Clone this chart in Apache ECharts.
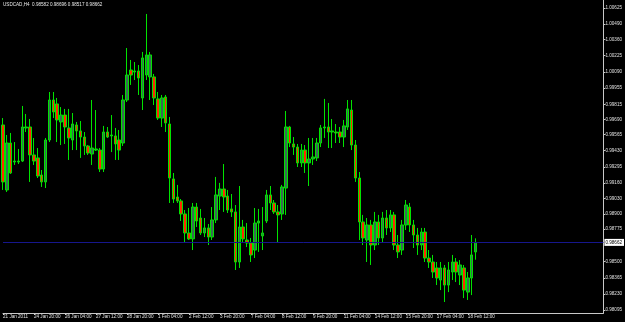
<!DOCTYPE html>
<html>
<head>
<meta charset="utf-8">
<script src="https://cdn.jsdelivr.net/npm/echarts@6.0.0/dist/echarts.min.js"></script>
<style>
html, body { margin: 0; padding: 0; background: #000; }
#chart { width: 625px; height: 322px; }
</style>
</head>
<body>
<div id="chart"></div>
<script>
const symbol = 'USDCAD,H4';

// bottom axis labels, one every 8 bars (H4)
const tickLabels = ['21 Jan 2011', '24 Jan 20:00', '26 Jan 04:00', '27 Jan 12:00', '28 Jan 20:00',
    '1 Feb 04:00', '2 Feb 12:00', '3 Feb 20:00', '7 Feb 04:00', '8 Feb 12:00', '9 Feb 20:00',
    '11 Feb 04:00', '14 Feb 12:00', '15 Feb 20:00', '17 Feb 04:00', '18 Feb 12:00'];
const tickEvery = 8;

// right axis price labels
const priceTicks = [0.98095, 0.98230, 0.98365, 0.98500, 0.98775, 0.98900, 0.99030, 0.99160,
    0.99295, 0.99430, 0.99565, 0.99690, 0.99815, 0.99955, 1.00090, 1.00225, 1.00360, 1.00490, 1.00625];
const yMin = 0.98071;
const yMax = 1.00691;

const opens = [0.99645, 0.99101, 0.99494, 0.99335, 0.99335, 0.99343, 0.99620, 0.99628, 0.99394, 0.99369,
    0.99226, 0.99168, 0.99519, 0.99854, 0.99821, 0.99670, 0.99728, 0.99620, 0.99519, 0.99645,
    0.99595, 0.99544, 0.99469, 0.99402, 0.99435, 0.99435, 0.99276, 0.99586, 0.99553, 0.99553,
    0.99519, 0.99494, 0.99854, 1.00105, 1.00088, 1.00097, 0.99871, 1.00063, 1.00047, 1.00047,
    0.99863, 0.99703, 0.99879, 0.99653, 0.99193, 0.99042, 0.99009, 0.98900, 0.98741, 0.98691,
    0.98958, 0.98866, 0.98741, 0.98783, 0.98707, 0.98850, 0.99050, 0.99109, 0.99050, 0.98942,
    0.98917, 0.98498, 0.98791, 0.98682, 0.98657, 0.98598, 0.98824, 0.98716, 0.98841, 0.99059,
    0.98992, 0.98917, 0.98900, 0.99117, 0.99628, 0.99486, 0.99460, 0.99327, 0.99435, 0.99327,
    0.99360, 0.99369, 0.99494, 0.99620, 0.99628, 0.99586, 0.99586, 0.99586, 0.99544, 0.99628,
    0.99770, 0.99477, 0.99201, 0.98833, 0.98682, 0.98808, 0.98640, 0.98833, 0.98699, 0.98866,
    0.98783, 0.98892, 0.98640, 0.98598, 0.98808, 0.98958, 0.98808, 0.98724, 0.98640, 0.98749,
    0.98531, 0.98498, 0.98448, 0.98347, 0.98448, 0.98305, 0.98414, 0.98498, 0.98389, 0.98448,
    0.98246, 0.98364, 0.98582];
const closes = [0.99168, 0.99494, 0.99243, 0.99343, 0.99343, 0.99628, 0.99628, 0.99394, 0.99343, 0.99218,
    0.99168, 0.99519, 0.99854, 0.99754, 0.99687, 0.99728, 0.99628, 0.99536, 0.99653, 0.99595,
    0.99544, 0.99469, 0.99410, 0.99452, 0.99444, 0.99276, 0.99586, 0.99544, 0.99561, 0.99486,
    0.99435, 0.99854, 1.00063, 1.00063, 1.00097, 1.00038, 1.00206, 1.00231, 1.00231, 0.99871,
    0.99703, 0.99871, 0.99662, 0.99201, 0.99025, 0.99009, 0.98900, 0.98741, 0.98691, 0.98958,
    0.98841, 0.98741, 0.98783, 0.98707, 0.98850, 0.99059, 0.99109, 0.99042, 0.98933, 0.98917,
    0.98498, 0.98791, 0.98691, 0.98657, 0.98557, 0.98824, 0.98841, 0.98741, 0.99059, 0.98992,
    0.98917, 0.98892, 0.99126, 0.99628, 0.99494, 0.99460, 0.99327, 0.99435, 0.99327, 0.99360,
    0.99377, 0.99494, 0.99620, 0.99628, 0.99586, 0.99595, 0.99578, 0.99544, 0.99637, 0.99779,
    0.99477, 0.99201, 0.98833, 0.98699, 0.98808, 0.98640, 0.98833, 0.98699, 0.98866, 0.98783,
    0.98892, 0.98640, 0.98582, 0.98808, 0.98975, 0.98808, 0.98724, 0.98640, 0.98749, 0.98531,
    0.98498, 0.98414, 0.98364, 0.98448, 0.98305, 0.98431, 0.98498, 0.98414, 0.98473, 0.98263,
    0.98364, 0.98557, 0.98662];
const lows = [0.99101, 0.99084, 0.99235, 0.99310, 0.99318, 0.99335, 0.99586, 0.99168, 0.99310, 0.99201,
    0.99126, 0.99117, 0.99502, 0.99703, 0.99502, 0.99477, 0.99486, 0.99352, 0.99435, 0.99435,
    0.99369, 0.99394, 0.99394, 0.99310, 0.99427, 0.99251, 0.99251, 0.99536, 0.99418, 0.99352,
    0.99352, 0.99469, 0.99837, 0.99980, 1.00021, 0.99896, 0.99770, 1.00021, 0.99854, 0.99812,
    0.99687, 0.99628, 0.99586, 0.98992, 0.98992, 0.98992, 0.98841, 0.98665, 0.98682, 0.98598,
    0.98791, 0.98724, 0.98707, 0.98640, 0.98682, 0.98824, 0.98933, 0.98917, 0.98908, 0.98875,
    0.98431, 0.98448, 0.98657, 0.98623, 0.98498, 0.98531, 0.98582, 0.98598, 0.98824, 0.98933,
    0.98900, 0.98665, 0.98850, 0.98892, 0.99460, 0.99394, 0.99293, 0.99293, 0.99243, 0.99134,
    0.99310, 0.99343, 0.99460, 0.99536, 0.99452, 0.99452, 0.99494, 0.99494, 0.99460, 0.99603,
    0.99435, 0.99168, 0.98682, 0.98640, 0.98498, 0.98473, 0.98598, 0.98640, 0.98665, 0.98724,
    0.98749, 0.98598, 0.98531, 0.98557, 0.98766, 0.98749, 0.98615, 0.98557, 0.98598, 0.98498,
    0.98448, 0.98364, 0.98305, 0.98263, 0.98163, 0.98246, 0.98347, 0.98330, 0.98305, 0.98196,
    0.98180, 0.98221, 0.98517];
const highs = [0.99703, 0.99561, 0.99578, 0.99502, 0.99444, 0.99804, 0.99737, 0.99695, 0.99536, 0.99452,
    0.99268, 0.99536, 0.99921, 0.99921, 0.99871, 0.99795, 0.99779, 0.99779, 0.99745, 0.99670,
    0.99678, 0.99586, 0.99477, 0.99854, 0.99770, 0.99452, 0.99637, 0.99628, 0.99728, 0.99620,
    0.99603, 0.99896, 1.00289, 1.00189, 1.00172, 1.00147, 1.00256, 1.00574, 1.00256, 1.00072,
    0.99921, 0.99896, 0.99896, 0.99712, 0.99243, 0.99143, 0.99025, 0.98933, 0.98950, 0.98992,
    0.98992, 0.98942, 0.98866, 0.98816, 0.98958, 0.99210, 0.99160, 0.99318, 0.99101, 0.99067,
    0.98975, 0.99134, 0.98850, 0.98824, 0.98699, 0.98950, 0.98942, 0.98958, 0.99101, 0.99134,
    0.99017, 0.98975, 0.99143, 0.99762, 0.99637, 0.99544, 0.99486, 0.99486, 0.99477, 0.99536,
    0.99536, 0.99536, 0.99645, 0.99863, 0.99829, 0.99695, 0.99653, 0.99628, 0.99687, 0.99854,
    0.99854, 0.99519, 0.99251, 0.98892, 0.98866, 0.98850, 0.98917, 0.98892, 0.98917, 0.98933,
    0.98933, 0.98917, 0.98724, 0.98850, 0.99017, 0.98992, 0.98850, 0.98783, 0.98783, 0.98783,
    0.98598, 0.98557, 0.98498, 0.98498, 0.98473, 0.98498, 0.98557, 0.98531, 0.98514, 0.98473,
    0.98414, 0.98724, 0.98696];

// chart shift: empty slots to the right of the last bar
const totalSlots = 156;

const chart = echarts.init(document.getElementById('chart'));

const categories = [];
for (let i = 0; i < totalSlots; i++) categories.push(String(i));
const candles = opens.map((o, i) => [o, closes[i], lows[i], highs[i]]);
const last = opens.length - 1;
const header = symbol + '  ' + [opens[last], highs[last], lows[last], closes[last]].map(v => v.toFixed(5)).join(' ');

const showTick = i => i % tickEvery === 0 && i / tickEvery < tickLabels.length;
const font = 'Liberation Sans';

let option = {
    backgroundColor: '#000',
    animation: false,
    title: {
        text: header,
        left: 3, top: 2,
        padding: 0,
        textStyle: { color: '#e8e8e8', fontSize: 4.6, fontWeight: 'normal', fontFamily: font }
    },
    grid: { left: 0, right: 19, top: 0, bottom: 9 },
    xAxis: {
        type: 'category',
        data: categories,
        boundaryGap: false,
        axisLine: { lineStyle: { color: '#c8c8c8', width: 1 } },
        axisTick: { interval: showTick, length: 2, lineStyle: { color: '#c8c8c8' } },
        axisLabel: {
            interval: showTick,
            formatter: (v, i) => tickLabels[i / tickEvery] || '',
            align: 'left', margin: 1,
            color: '#e0e0e0', fontSize: 4.6, fontFamily: font
        },
        splitLine: { show: false }
    },
    yAxis: {
        type: 'value',
        position: 'right',
        min: yMin, max: yMax,
        axisLine: { show: true, lineStyle: { color: '#c8c8c8', width: 1 } },
        axisTick: { show: true, customValues: priceTicks, length: 2, lineStyle: { color: '#c8c8c8' } },
        axisLabel: {
            customValues: priceTicks,
            formatter: v => v.toFixed(5),
            margin: 2,
            color: '#e0e0e0', fontSize: 4.6, fontFamily: font
        },
        splitLine: { show: false }
    },
    series: [{
        type: 'candlestick',
        data: candles,
        barWidth: 3,
        itemStyle: {
            color: '#3b6a55',
            color0: '#ff2a00',
            borderColor: '#00e400',
            borderColor0: '#00e400',
            borderWidth: 1
        }
    }, {
        // bid line
        type: 'line',
        data: [],
        silent: true,
        markLine: {
            silent: true,
            symbol: 'none',
            precision: 5,
            lineStyle: { color: '#16168c', type: 'solid', width: 1 },
            label: {
                position: 'end',
                distance: 1,
                formatter: p => Number(p.value).toFixed(5),
                backgroundColor: '#ffffff',
                color: '#000',
                fontSize: 4.6,
                fontFamily: font,
                padding: [1, 2, 1, 1]
            },
            data: [{ yAxis: closes[last] }]
        }
    }]
};

chart.setOption(option);
</script>
</body>
</html>
